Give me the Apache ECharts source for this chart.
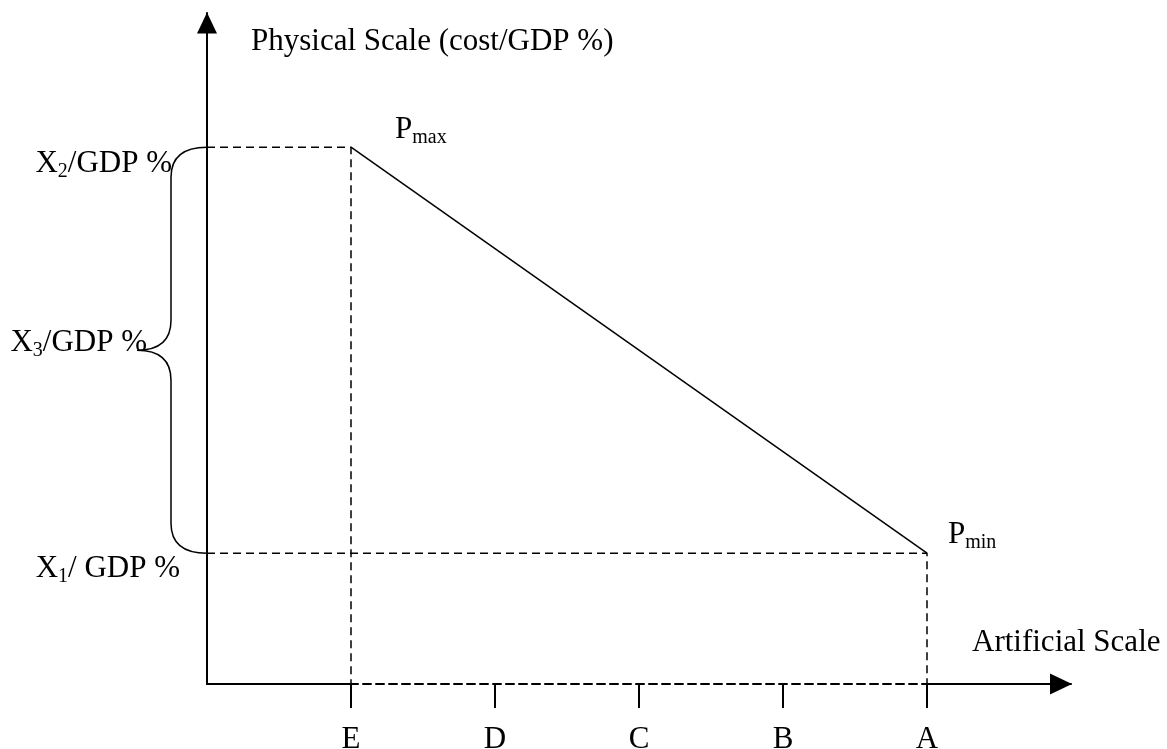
<!DOCTYPE html>
<html>
<head>
<meta charset="utf-8">
<script src="https://cdn.jsdelivr.net/npm/echarts@6/dist/echarts.min.js"></script>
<style>
html,body{margin:0;padding:0;background:#fff;}
#chart{width:1167px;height:749px;}
</style>
</head>
<body>
<div id="chart"></div>
<script>
// ---- data ----
const tickValues = [1, 2, 3, 4, 5];
const tickLetters = ['E', 'D', 'C', 'B', 'A'];
const xRange = [0, 6];
const yRange = [0, 10];
const pMax = [1, 8];        // E, X2
const pMin = [5, 1.95];     // A, X1
const X1 = 1.95;
const X2 = 8;
const yLabelTexts = ['{n|X}{s|1}{n|/ GDP %}', '{n|X}{s|3}{n|/GDP %}', '{n|X}{s|2}{n|/GDP %}'];
const pointLabelTexts = ['{n|P}{s|max}', '{n|P}{s|min}'];
const xAxisName = 'Artificial Scale';
const yAxisName = 'Physical Scale (cost/GDP %)';

// ---- style ----
const FONT = "'Liberation Serif', 'Times New Roman', serif";
const FS = 31;
const rich = {
  n: { fontSize: FS, lineHeight: 35, fontFamily: FONT, color: '#000' },
  s: { fontSize: 20, lineHeight: 20, fontFamily: FONT, color: '#000', verticalAlign: 'bottom' }
};
const dash = [8, 5];

const chart = echarts.init(document.getElementById('chart'), null, { renderer: 'canvas' });

const X3mid = (X1 + X2) / 2;
const yLabelData = [
  { value: [0, X1], label: { formatter: yLabelTexts[0], distance: 27, offset: [0, 16] } },
  { value: [0, X3mid], label: { formatter: yLabelTexts[1], distance: 60, offset: [0, -7] } },
  { value: [0, X2], label: { formatter: yLabelTexts[2], distance: 35, offset: [0, 17] } }
];
const pointLabelData = [
  { value: pMax, label: { formatter: pointLabelTexts[0], distance: 44, offset: [0, -17] } },
  { value: pMin, label: { formatter: pointLabelTexts[1], distance: 21, offset: [0, -18] } }
];

const option = {
  backgroundColor: '#fff',
  animation: false,
  grid: { left: 207, right: 1167 - 1071, top: 13, bottom: 749 - 684, containLabel: false, outerBoundsMode: 'none' },
  xAxis: {
    type: 'value', min: xRange[0], max: xRange[1],
    splitLine: { show: false },
    axisLine: { show: true, onZero: false, symbol: ['none', 'triangle'], symbolSize: [21, 22], symbolOffset: [0, -10],
      lineStyle: { color: '#000', width: 2, type: dash } },
    axisTick: { show: true, customValues: tickValues, length: 24, lineStyle: { color: '#000', width: 2 } },
    axisLabel: { show: true, customValues: tickValues, margin: 40, fontFamily: FONT, fontSize: FS, color: '#000',
      formatter: v => tickLetters[tickValues.indexOf(v)] || '' }
  },
  yAxis: {
    type: 'value', min: yRange[0], max: yRange[1],
    splitLine: { show: false },
    name: yAxisName, nameLocation: 'end', nameGap: -29,
    nameTextStyle: { fontFamily: FONT, fontSize: FS, color: '#000', align: 'left', verticalAlign: 'middle', padding: [0, 0, 0, 44] },
    axisLine: { show: true, onZero: false, symbol: ['none', 'triangle'], symbolSize: [20, 21], symbolOffset: [0, -10],
      lineStyle: { color: '#000', width: 2 } },
    axisTick: { show: false },
    axisLabel: { show: false }
  },
  series: [
    { type: 'line', name: 'cost line', data: [pMax, pMin], symbol: 'none', clip: false, silent: true,
      lineStyle: { color: '#000', width: 1.5 } },
    { type: 'line', name: 'guide max', data: [[0, pMax[1]], pMax, [pMax[0], 0]], symbol: 'none', clip: false, silent: true,
      lineStyle: { color: '#000', width: 1.5, type: dash } },
    { type: 'line', name: 'guide min', data: [[0, pMin[1]], pMin, [pMin[0], 0]], symbol: 'none', clip: false, silent: true,
      lineStyle: { color: '#000', width: 1.5, type: dash } },
    { type: 'line', name: 'axis solid 1', data: [[xRange[0], 0], [tickValues[0], 0]], symbol: 'none', clip: false, silent: true,
      lineStyle: { color: '#000', width: 2 } },
    { type: 'line', name: 'axis solid 2', data: [[tickValues[4], 0], [xRange[1], 0]], symbol: 'none', clip: false, silent: true,
      lineStyle: { color: '#000', width: 2 } },
    { type: 'custom', name: 'brace', clip: false, silent: true,
      data: [[0, X1, X2]],
      encode: { x: 0, y: 1 },
      renderItem: function (params, api) {
        const top = api.coord([0, api.value(2)]);
        const bot = api.coord([0, api.value(1)]);
        const ax = top[0];
        const bx = ax - 36;
        const tipX = ax - 70;
        const midY = (top[1] + bot[1]) / 2;
        const r = 30;
        const d = 'M' + ax + ' ' + top[1] +
          ' Q' + bx + ' ' + top[1] + ' ' + bx + ' ' + (top[1] + r) +
          ' L' + bx + ' ' + (midY - r) +
          ' Q' + bx + ' ' + midY + ' ' + tipX + ' ' + midY +
          ' Q' + bx + ' ' + midY + ' ' + bx + ' ' + (midY + r) +
          ' L' + bx + ' ' + (bot[1] - r) +
          ' Q' + bx + ' ' + bot[1] + ' ' + ax + ' ' + bot[1];
        return { type: 'path', shape: { pathData: d }, style: { stroke: '#000', fill: null, lineWidth: 1.5 } };
      }
    },
    { type: 'scatter', name: 'y labels', data: yLabelData, symbolSize: 0, clip: false, silent: true,
      label: { show: true, position: 'left', color: '#000', opacity: 1, rich: rich } },
    { type: 'scatter', name: 'point labels', data: pointLabelData, symbolSize: 0, clip: false, silent: true,
      label: { show: true, position: 'right', color: '#000', opacity: 1, rich: rich } },
    { type: 'scatter', name: 'x axis name', data: [[xRange[1], 0]], symbolSize: 0, clip: false, silent: true,
      label: { show: true, position: 'inside', align: 'left', verticalAlign: 'middle', offset: [-99, -41],
        formatter: xAxisName, fontFamily: FONT, fontSize: FS, color: '#000', opacity: 1 } }
  ]
};
chart.setOption(option);
</script>
</body>
</html>
